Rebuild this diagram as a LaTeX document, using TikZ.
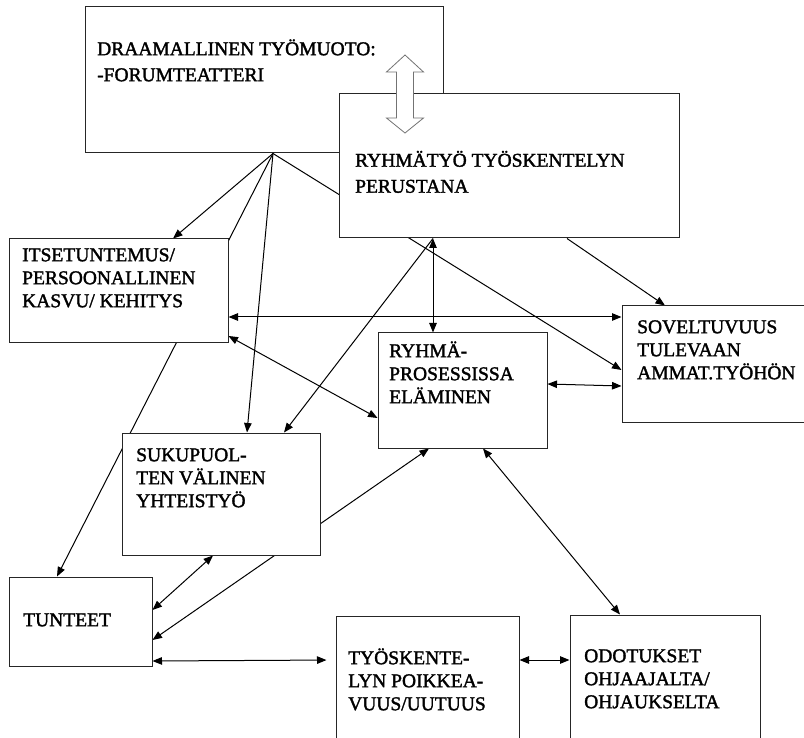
\documentclass[tikz,border=0pt]{standalone}
\usepackage{fontspec}
\setmainfont{Liberation Serif}[FakeBold=1.7]
\usetikzlibrary{arrows.meta}
\pgfdeclarelayer{background}
\pgfsetlayers{background,main}
\begin{document}
\begin{tikzpicture}[x=1pt,y=-1pt,
  box/.style={rectangle, draw=black!85, line width=1pt, fill=white, inner sep=0pt},
  txt/.style={anchor=north west, inner sep=0pt, align=left, font=\fontsize{19.5}{23}\selectfont},
  txtwide/.style={txt, font=\fontsize{19.5}{26}\selectfont},
  tip/.tip={Triangle[length=9.5pt,width=7.5pt]},
  conn/.style={line width=1pt, -tip},
  both/.style={line width=1pt, tip-tip},
  hollow/.style={draw=black!55, fill=white, line width=0.8pt, line join=miter},
]
\useasboundingbox (0,0) rectangle (804,738);

% boxes (white filled, drawn above the connectors)
\node[box, minimum width=358pt, minimum height=146pt] (draama)    at (264,80) {};
\node[box, minimum width=340pt, minimum height=144pt] (ryhmatyo)  at (509,166) {};
\node[box, minimum width=219pt, minimum height=104pt] (itse)      at (118.5,291) {};
\node[box, minimum width=208pt, minimum height=116pt] (sovel)     at (726,364) {};
\node[box, minimum width=169pt, minimum height=115pt] (prosessi)  at (462.5,390.5) {};
\node[box, minimum width=198pt, minimum height=122pt] (suku)      at (221,494) {};
\node[box, minimum width=143pt, minimum height=89pt]  (tunteet)   at (80.5,621.5) {};
\node[box, minimum width=183pt, minimum height=144pt] (poikkeava) at (427.5,688) {};
\node[box, minimum width=190pt, minimum height=145pt] (odotukset) at (665,687.5) {};

% box texts
\node[txtwide] (tdraama)    at (97,37)    {\rule{0pt}{18pt}DRAAMALLINEN TYÖMUOTO:\\-FORUMTEATTERI};
\node[txtwide] (tryhmatyo)  at (355,148.5){\rule{0pt}{18pt}RYHMÄTYÖ TYÖSKENTELYN\\PERUSTANA};
\node[txt] (titse)      at (22,243)  {\rule{0pt}{18pt}ITSETUNTEMUS/\\PERSOONALLINEN\\KASVU/ KEHITYS};
\node[txt] (tsovel)     at (637,315) {\rule{0pt}{18pt}SOVELTUVUUS\\TULEVAAN\\AMMAT.TYÖHÖN};
\node[txt] (tprosessi)  at (389,339) {\rule{0pt}{18pt}RYHMÄ-\\PROSESSISSA\\ELÄMINEN};
\node[txt] (tsuku)      at (136,443) {\rule{0pt}{18pt}SUKUPUOL-\\TEN VÄLINEN\\YHTEISTYÖ};
\node[txt] (ttunteet)   at (23,608)  {\rule{0pt}{18pt}TUNTEET};
\node[txt] (tpoikkeava) at (348,646) {\rule{0pt}{18pt}TYÖSKENTE-\\LYN POIKKEA-\\VUUS/UUTUUS};
\node[txt] (todotukset) at (584,644) {\rule{0pt}{18pt}ODOTUKSET\\OHJAAJALTA/\\OHJAUKSELTA};

% hollow two-way arrow between the two upper boxes
\draw[hollow] (405,55) -- (423.5,72) -- (413.5,72) -- (413.5,118) -- (423.5,118)
  -- (405,133) -- (386.5,118) -- (396.5,118) -- (396.5,72) -- (386.5,72) -- cycle;

\begin{pgfonlayer}{background}
\fill[white] (0,0) rectangle (804,738);
% from the forum theatre box
\draw[conn] ([xshift=9pt]draama.south) -- ([xshift=54.5pt]itse.north);
\draw[conn] ([xshift=9pt]draama.south) -- ([xshift=-23.5pt]tunteet.north);
\draw[conn] ([xshift=9pt]draama.south) -- ([xshift=26pt]suku.north);
\draw[conn] ([xshift=9pt]draama.south) -- ([yshift=-6pt]sovel.west);
% from the group work box
\draw[conn] ([xshift=-76pt]ryhmatyo.south) -- ([xshift=63pt]suku.north);
\draw[both] ([xshift=-76pt]ryhmatyo.south) -- ([xshift=-29.5pt]prosessi.north);
\draw[conn] ([xshift=58pt]ryhmatyo.south) -- ([xshift=-61pt]sovel.north);
% two-way links
\draw[both] ([yshift=-26pt]itse.east) -- ([yshift=47pt]sovel.west);
\draw[both] ([yshift=-45pt]itse.east) -- ([yshift=-27.5pt]prosessi.west);
\draw[both] ([yshift=6.5pt]prosessi.east) -- ([yshift=-22pt]sovel.west);
\draw[both] ([yshift=11.5pt]tunteet.east) -- ([xshift=-8pt]suku.south);
\draw[both] ([yshift=-18.5pt]tunteet.east) -- ([xshift=-33.5pt]prosessi.south);
\draw[both, shorten >=9pt] ([yshift=-39.5pt]tunteet.east) -- ([yshift=28pt]poikkeava.west);
\draw[both] ([yshift=28pt]poikkeava.east) -- ([yshift=27.5pt]odotukset.west);
\draw[both] ([xshift=20.5pt]prosessi.south) -- ([xshift=-45pt]odotukset.north);
\end{pgfonlayer}
\end{tikzpicture}
\end{document}
